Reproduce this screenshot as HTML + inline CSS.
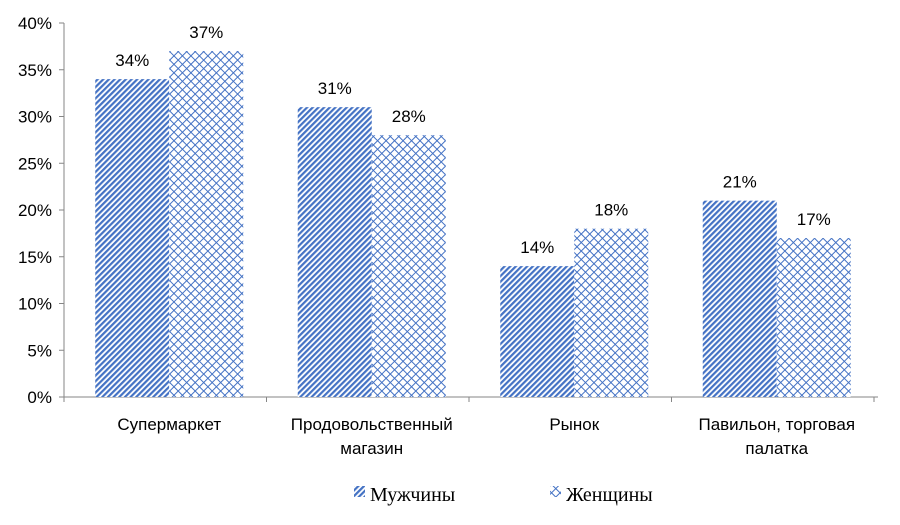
<!DOCTYPE html>
<html><head><meta charset="utf-8"><style>
body{margin:0;background:#fff}
svg{display:block;font-family:"Liberation Sans",sans-serif}
</style></head><body>
<svg width="900" height="525">
<defs>
<pattern id="pm" width="4" height="4" patternUnits="userSpaceOnUse" patternTransform="rotate(45)">
<rect width="4" height="4" fill="#fff"/><rect width="2.2" height="4" fill="#4472C4"/></pattern>
<pattern id="pw" width="6" height="6" patternUnits="userSpaceOnUse" patternTransform="rotate(45)">
<rect width="6" height="6" fill="#fff"/><rect width="1" height="6" fill="#4472C4"/><rect width="6" height="1" fill="#4472C4"/></pattern>
</defs>
<g id="axes"></g><g id="bars"></g>
<g font-family="Liberation Serif,serif" font-size="20">
<rect x="354" y="486" width="11" height="11" fill="url(#pm)"/>
<text x="370" y="501">Мужчины</text>
<rect x="550" y="486" width="11" height="11" fill="url(#pw)"/>
<text x="566" y="501">Женщины</text>
</g>
</svg>
<script>
const categories=[["Супермаркет"],["Продовольственный","магазин"],["Рынок"],["Павильон, торговая","палатка"]];
const men=[34,31,14,21];
const women=[37,28,18,17];
const ticks=[0,5,10,15,20,25,30,35,40];
const NS="http://www.w3.org/2000/svg";
const x0=68,band=202.5,y0=397,yTop=23,max=40,bw=74;
const y=v=>y0-(y0-yTop)*v/max;
function mk(t,a,p,txt){const e=document.createElementNS(NS,t);for(const k in a)e.setAttribute(k,a[k]);if(txt!=null)e.textContent=txt;p.appendChild(e);return e;}
const ax=document.getElementById('axes'),bars=document.getElementById('bars');
let l=mk('line',{x1:x0-4,y1:yTop,x2:x0-4,y2:y0,stroke:'#868686'},ax);


l=mk('line',{x1:x0-4,y1:y0,x2:x0+band*4,y2:y0,stroke:'#868686'},ax);


ticks.forEach(t=>{
 const tk=mk('line',{x1:x0-9,x2:x0-4,y1:y(t),y2:y(t),stroke:'#868686'},ax);
 
 
 const tx=mk('text',{x:x0-16,y:y(t)+6,'text-anchor':'end','font-size':17},ax,t+'%');
 
 
});
for(let i=0;i<=4;i++){const tk=mk('line',{x1:x0-4+band*i,x2:x0-4+band*i,y1:y0,y2:y0+5,stroke:'#868686'},ax);
 
 }
categories.forEach((c,i)=>{
 const cx=x0+band*i+band/2;
 [[men,'url(#pm)',cx-bw,'men'],[women,'url(#pw)',cx,'women']].forEach(([arr,f,bx,n])=>{
  const r=mk('rect',{x:bx,y:y(arr[i]),width:bw,height:y0-y(arr[i]),fill:f},bars);
  
  
  const t=mk('text',{x:bx+bw/2,y:y(arr[i])-13,'text-anchor':'middle','font-size':17},bars,arr[i]+'%');
  
  
 });
 c.forEach((s,j)=>{const t=mk('text',{x:cx,y:430+j*24,'text-anchor':'middle','font-size':17},ax,s);
  
  });
});
</script>
</body></html>
